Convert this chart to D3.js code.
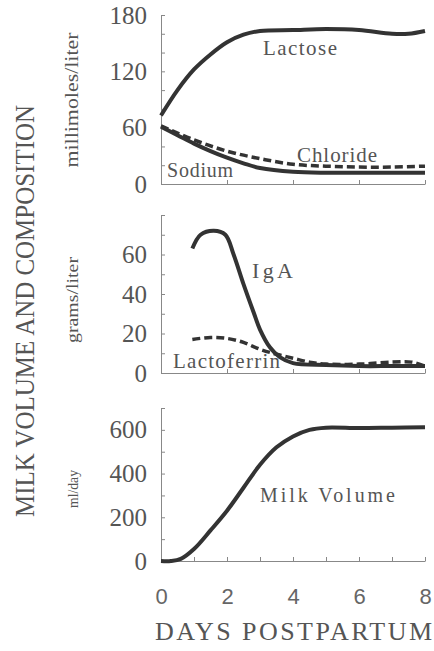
<!DOCTYPE html>
<html>
<head>
<meta charset="utf-8">
<script src="https://cdn.jsdelivr.net/npm/d3@7"></script>
<style>
  body { margin: 0; background: #fff; }
  svg { display: block; }
</style>
</head>
<body>
<div id="chart"></div>
<script>
// Milk volume and composition over the first days postpartum

const width = 434;
const height = 651;

// data (day, value)
const lactoseDays = [0, 0.5, 1, 1.5, 2, 2.5, 3, 4, 5, 6, 7, 7.5, 8];
const lactoseVals = [73, 100, 122, 138, 151, 159, 163, 164, 165, 164, 160, 160, 163];
const sodiumDays = [0, 0.5, 1, 1.5, 2, 2.5, 3, 4, 5, 6, 7, 8];
const sodiumVals = [61, 52, 43, 35, 28, 22, 17, 13, 12, 12, 12, 12];
const chlorideDays = [0, 1, 2, 3, 4, 5, 6, 7, 8];
const chlorideVals = [62, 47, 35, 27, 21, 19, 18, 18, 19];

const igaDays = [0.95, 1.2, 1.6, 1.95, 2.2, 2.5, 2.8, 3, 3.3, 3.6, 4, 5, 6, 7, 8];
const igaVals = [63, 70, 72, 70, 60, 45, 31, 22, 13, 8, 5, 4, 3.5, 3.5, 3.5];
const lactoferrinDays = [0.95, 1.5, 2, 2.5, 3, 3.5, 4, 4.5, 5, 6, 7, 7.6, 8];
const lactoferrinVals = [17, 18, 17.5, 15.5, 12, 9.5, 7.5, 5.5, 4.5, 4.5, 5.5, 5.5, 3.5];

const volumeDays = [0, 0.3, 0.6, 1, 1.5, 2, 2.5, 3, 3.5, 4, 4.5, 5, 6, 7, 8];
const volumeVals = [0, 0, 10, 55, 140, 230, 335, 440, 520, 570, 600, 610, 608, 610, 612];

const dayTicks = [0, 2, 4, 6, 8];
const compTicks = [0, 60, 120, 180];
const proteinTicks = [0, 20, 40, 60];
const volumeTicks = [0, 200, 400, 600];

const ink = "#333";
const textCol = "#555";
const axisCol = "#888";
const serif = "'Liberation Serif', 'DejaVu Serif', serif";

const svg = d3.select("#chart").append("svg")
  .attr("width", width)
  .attr("height", height);

const x = d3.scaleLinear().domain([0, 8]).range([161, 425]);

// one panel = y scale + axes
function panel(domain, range, minorStep, labels, dayStep, showDays) {
  const y = d3.scaleLinear().domain(domain).range(range);
  const g = svg.append("g");

  const yTicks = d3.range(domain[0], domain[1] + minorStep / 2, minorStep);
  g.append("g")
    .attr("transform", `translate(${x(0)},0)`)
    .call(d3.axisLeft(y).tickValues(yTicks).tickSizeInner(-4).tickSizeOuter(0).tickPadding(14)
      .tickFormat(v => labels.includes(v) ? v : ""))
    .call(a => a.selectAll("line, path").attr("stroke", axisCol))
    .call(a => a.selectAll("text").attr("font-family", serif).attr("font-size", 25).attr("fill", textCol));

  const xTicks = d3.range(dayStep, 8 + dayStep / 2, dayStep);
  const xa = g.append("g")
    .attr("transform", `translate(0,${range[0]})`)
    .call(d3.axisBottom(x).tickValues(showDays ? [0].concat(xTicks) : xTicks)
      .tickSizeInner(-4).tickSizeOuter(0).tickPadding(27)
      .tickFormat(d => showDays && dayTicks.includes(d) ? d : ""));
  xa.selectAll("line, path").attr("stroke", axisCol);
  xa.selectAll("text").attr("font-family", "'Liberation Sans', Arial, sans-serif")
    .attr("font-size", 22).attr("fill", "#666");
  xa.selectAll(".tick").filter(d => d === 0).select("line").remove();
  return y;
}

function curve(y, days, vals, dashed) {
  const pts = days.map((d, i) => [d, vals[i]]);
  svg.append("path")
    .datum(pts)
    .attr("fill", "none")
    .attr("stroke", ink)
    .attr("stroke-width", dashed ? 3.5 : 4)
    .attr("stroke-dasharray", dashed ? "8,4" : null)
    .attr("stroke-linecap", "butt")
    .attr("d", d3.line().x(p => x(p[0])).y(p => y(p[1])).curve(d3.curveCatmullRom.alpha(0.5)));
}

function label(txt, px, py, size, len) {
  svg.append("text")
    .attr("x", px).attr("y", py)
    .attr("font-family", serif).attr("font-size", size).attr("fill", textCol)
    .attr("textLength", len).attr("lengthAdjust", "spacing")
    .text(txt);
}

// panel 1: millimoles/liter
const y1 = panel([0, 180], [184, 15], 20, compTicks, 2, false);
curve(y1, chlorideDays, chlorideVals, true);
curve(y1, sodiumDays, sodiumVals, false);
curve(y1, lactoseDays, lactoseVals, false);
label("Lactose", 263, 55, 21, 74);
label("Chloride", 297, 162, 21, 80);
label("Sodium", 167, 177, 20, 66);

// panel 2: grams/liter
const y2 = panel([0, 80], [373, 215], 10, proteinTicks, 2, false);
curve(y2, lactoferrinDays, lactoferrinVals, true);
curve(y2, igaDays, igaVals, false);
label("IgA", 252, 278, 22, 41);
label("Lactoferrin", 173, 368, 21, 107);

// panel 3: ml/day
const y3 = panel([0, 700], [561, 408], 100, volumeTicks, 1, true);
curve(y3, volumeDays, volumeVals, false);
label("Milk Volume", 260, 502, 20, 135);

// unit labels
function vlabel(txt, cx, cy, size, len) {
  svg.append("text")
    .attr("transform", `translate(${cx},${cy}) rotate(-90)`)
    .attr("text-anchor", "middle")
    .attr("font-family", serif).attr("font-size", size).attr("fill", textCol)
    .attr("textLength", len).attr("lengthAdjust", "spacingAndGlyphs")
    .text(txt);
}
vlabel("millimoles/liter", 78, 100, 18, 135);
vlabel("grams/liter", 78, 300, 17, 86);
vlabel("ml/day", 78, 489, 15, 38);
vlabel("MILK VOLUME AND COMPOSITION", 34, 311, 28, 412);

// x title
label("DAYS POSTPARTUM", 155, 640, 26, 277);
</script>
</body>
</html>
